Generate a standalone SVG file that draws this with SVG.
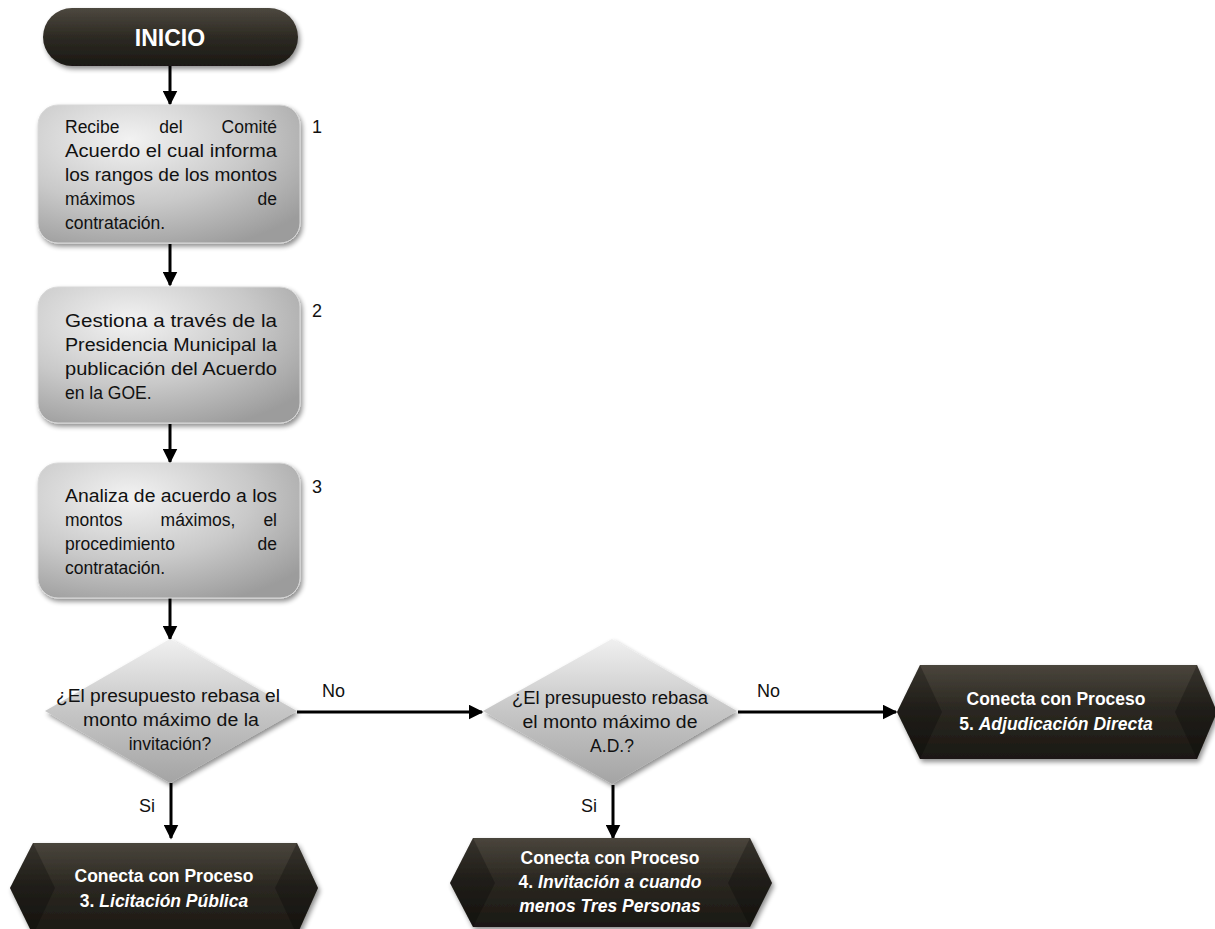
<svg xmlns="http://www.w3.org/2000/svg" width="1215" height="929" viewBox="0 0 1215 929">
<style>
.t{font-family:"Liberation Sans",Arial,sans-serif;font-size:17.5px;fill:#111}
.n{font-family:"Liberation Sans",Arial,sans-serif;font-size:18px;fill:#111}
.w{font-family:"Liberation Sans",Arial,sans-serif;font-size:17.5px;font-weight:bold;fill:#fff;text-anchor:middle}
.c{text-anchor:middle}
.e{text-anchor:end}
.i{font-style:italic}
.box{fill:url(#gbox);stroke:#d8d8d8;stroke-width:1;filter:url(#sh)}
.dia{fill:url(#gdia);filter:url(#sh)}
.hex{fill:url(#ghex);filter:url(#sh)}
.side{fill:#000;opacity:0.25}
.ln{stroke:#000;stroke-width:3;fill:none;marker-end:url(#ah)}
</style>
<defs>
<radialGradient id="gbox" cx="0.35" cy="0.25" r="0.85">
<stop offset="0" stop-color="#f2f2f2"/><stop offset="0.55" stop-color="#c9c9c9"/><stop offset="1" stop-color="#9c9c9c"/>
</radialGradient>
<linearGradient id="gdia" x1="0" y1="0" x2="0" y2="1">
<stop offset="0" stop-color="#f0f0f0"/><stop offset="0.5" stop-color="#c6c6c6"/><stop offset="1" stop-color="#a4a4a4"/>
</linearGradient>
<linearGradient id="ghex" x1="0" y1="0" x2="0" y2="1">
<stop offset="0" stop-color="#4a453c"/><stop offset="0.45" stop-color="#2c2922"/><stop offset="1" stop-color="#1a1813"/>
</linearGradient>
<linearGradient id="gpill" x1="0" y1="0" x2="0" y2="1">
<stop offset="0" stop-color="#4d483f"/><stop offset="0.5" stop-color="#2d2a23"/><stop offset="1" stop-color="#1b1914"/>
</linearGradient>
<filter id="sh" x="-10%" y="-10%" width="125%" height="130%">
<feGaussianBlur in="SourceAlpha" stdDeviation="2.5"/><feOffset dx="2" dy="3" result="b"/>
<feComponentTransfer><feFuncA type="linear" slope="0.45"/></feComponentTransfer>
<feMerge><feMergeNode/><feMergeNode in="SourceGraphic"/></feMerge>
</filter>
<marker id="ah" markerWidth="5" markerHeight="5" refX="4.5" refY="2.5" orient="auto" markerUnits="strokeWidth">
<path d="M0,0 L5,2.5 L0,5 Z" fill="#000"/>
</marker>
</defs>

<g id="connectors">
<line class="ln" x1="170" y1="66" x2="170" y2="104"/>
<line class="ln" x1="170" y1="244" x2="170" y2="285"/>
<line class="ln" x1="170" y1="424" x2="170" y2="462"/>
<line class="ln" x1="170" y1="598" x2="170" y2="639"/>
<line class="ln" x1="297" y1="712" x2="482" y2="712"/>
<line class="ln" x1="738" y1="712" x2="896" y2="712"/>
<line class="ln" x1="171" y1="783" x2="171" y2="838"/>
<line class="ln" x1="613" y1="785" x2="613" y2="838"/>
<text class="n" x="322" y="697">No</text>
<text class="n" x="757" y="697">No</text>
<text class="n" x="139" y="812">Si</text>
<text class="n" x="581" y="812">Si</text>
</g>

<g id="inicio">
<rect x="43" y="8" width="255" height="58" rx="29" fill="url(#gpill)" filter="url(#sh)"/>
<text class="w" x="170" y="46" style="font-size:23px">INICIO</text>
</g>

<g id="paso1">
<rect class="box" x="38" y="105" width="262" height="138" rx="20"/>
<text class="t" x="65" y="133">Recibe</text>
<text class="t c" x="171" y="133">del</text>
<text class="t e" x="277" y="133">Comité</text>
<text class="t" x="65" y="157" textLength="212" lengthAdjust="spacingAndGlyphs">Acuerdo el cual informa</text>
<text class="t" x="65" y="181" textLength="212" lengthAdjust="spacingAndGlyphs">los rangos de los montos</text>
<text class="t" x="65" y="205">máximos</text>
<text class="t e" x="277" y="205">de</text>
<text class="t" x="65" y="229">contratación.</text>
<text class="n" x="312" y="133">1</text>
</g>

<g id="paso2">
<rect class="box" x="38" y="287" width="262" height="136" rx="20"/>
<text class="t" x="65" y="327" textLength="212" lengthAdjust="spacingAndGlyphs">Gestiona a través de la</text>
<text class="t" x="65" y="351" textLength="212" lengthAdjust="spacingAndGlyphs">Presidencia Municipal la</text>
<text class="t" x="65" y="375" textLength="212" lengthAdjust="spacingAndGlyphs">publicación del Acuerdo</text>
<text class="t" x="65" y="399">en la GOE.</text>
<text class="n" x="312" y="317">2</text>
</g>

<g id="paso3">
<rect class="box" x="38" y="463" width="262" height="135" rx="20"/>
<text class="t" x="65" y="502" textLength="212" lengthAdjust="spacingAndGlyphs">Analiza de acuerdo a los</text>
<text class="t" x="65" y="526">montos</text>
<text class="t c" x="198" y="526">máximos,</text>
<text class="t e" x="277" y="526">el</text>
<text class="t" x="65" y="550">procedimiento</text>
<text class="t e" x="277" y="550">de</text>
<text class="t" x="65" y="574">contratación.</text>
<text class="n" x="312" y="493">3</text>
</g>

<g id="decision1">
<polygon class="dia" points="170,639 297,711 170,783 45,711"/>
<text class="t c" x="168" y="702" textLength="224" lengthAdjust="spacingAndGlyphs">¿El presupuesto rebasa el</text>
<text class="t c" x="171" y="726" textLength="176" lengthAdjust="spacingAndGlyphs">monto máximo de la</text>
<text class="t c" x="170" y="750">invitación?</text>
</g>

<g id="decision2">
<polygon class="dia" points="612,639 737,711 612,784 483,711"/>
<text class="t c" x="610" y="704" textLength="196" lengthAdjust="spacingAndGlyphs">¿El presupuesto rebasa</text>
<text class="t c" x="610" y="728" textLength="175" lengthAdjust="spacingAndGlyphs">el monto máximo de</text>
<text class="t c" x="612" y="752">A.D.?</text>
</g>

<g id="proceso3">
<polygon class="hex" points="33,843 297,843 318,888 297,935 33,935 10,888"/>
<polygon class="side" points="33,843 10,888 33,935 55,888"/>
<polygon class="side" points="297,843 318,888 297,935 275,888"/>
<text class="w" x="164" y="882">Conecta con Proceso</text>
<text class="w" x="164" y="907">3. <tspan class="i">Licitación Pública</tspan></text>
</g>

<g id="proceso4">
<polygon class="hex" points="473,838 750,838 772,883 750,927 473,927 450,883"/>
<polygon class="side" points="473,838 450,883 473,927 495,883"/>
<polygon class="side" points="750,838 772,883 750,927 728,883"/>
<text class="w" x="610" y="864">Conecta con Proceso</text>
<text class="w" x="610" y="888">4. <tspan class="i">Invitación a cuando</tspan></text>
<text class="w i" x="610" y="912">menos Tres Personas</text>
</g>

<g id="proceso5">
<polygon class="hex" points="920,665 1197,665 1217,712 1197,759 920,759 897,712"/>
<polygon class="side" points="920,665 897,712 920,759 942,712"/>
<polygon class="side" points="1197,665 1217,712 1197,759 1175,712"/>
<text class="w" x="1056" y="705">Conecta con Proceso</text>
<text class="w" x="1056" y="730">5. <tspan class="i">Adjudicación Directa</tspan></text>
</g>
</svg>
